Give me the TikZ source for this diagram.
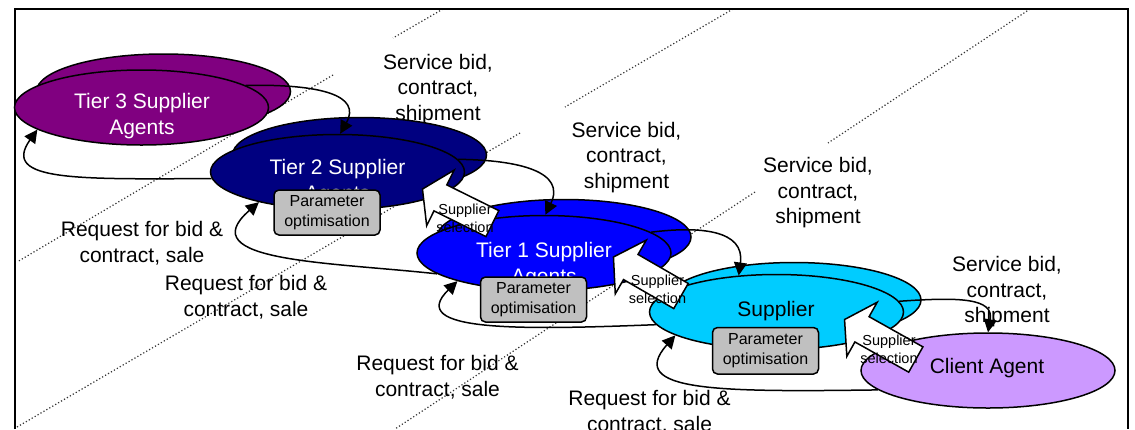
\documentclass[tikz,border=0pt]{standalone}
\usepackage{fontspec}
\setmainfont{Liberation Sans}
\usetikzlibrary{shapes.geometric,arrows.meta}
\definecolor{tierThree}{RGB}{128, 0, 128}
\definecolor{tierTwo}{RGB}{0, 0, 128}
\definecolor{tierOne}{RGB}{0, 0, 255}
\definecolor{supplierCyan}{RGB}{0, 204, 255}
\definecolor{clientLilac}{RGB}{204, 153, 255}
\definecolor{paramGray}{RGB}{192, 192, 192}

\begin{document}
\begin{tikzpicture}[x=1pt,y=-1pt,
    agent/.style={ellipse,draw=black,line width=1.5pt,minimum width=254pt,minimum height=75pt,inner sep=0pt},
    agtext/.style={font=\fontsize{21}{26}\selectfont,align=center,inner sep=0pt},
    lbl/.style={font=\fontsize{21}{25.5}\selectfont,align=center,inner sep=0pt},
    parbox/.style={draw=black,line width=1.5pt,rounded corners=5pt,fill=paramGray,minimum width=106pt,minimum height=45pt,inner sep=0pt,font=\fontsize{16}{19.5}\selectfont,align=center},
    flow/.style={line width=1.5pt,-{Triangle[length=13pt,width=13pt]}},
    selarrow/.style={draw=black,line width=1.5pt,fill=white},
    seltext/.style={font=\fontsize{14.5}{18.5}\selectfont,align=center,inner sep=0pt},
    lane/.style={black!80,line width=1.2pt,dash pattern=on 1.2pt off 2.2pt}]
    \useasboundingbox (0,0) rectangle (1135,429);

    % swim lanes
    \draw[lane] (443,9) -- (393,38);
    \draw[lane] (333,75) -- (17,262);
    \draw[lane] (733,9) -- (565,107);
    \draw[lane] (520,133) -- (17,427);
    \draw[lane] (1030,9) -- (828,143);
    \draw[lane] (755,192) -- (395,429);
    \draw[line width=1.5pt] (15,429) -- (15,9) -- (1128,9) -- (1128,429);

    % message labels
    \node[lbl] (bid1) at (438,89.5) {Service bid,\\contract,\\shipment};
    \node[lbl] (bid2) at (626.5,157.5) {Service bid,\\contract,\\shipment};
    \node[lbl] (bid3) at (818,193) {Service bid,\\contract,\\shipment};
    \node[lbl] (bid4) at (1007,292) {Service bid,\\contract,\\shipment};
    \node[lbl] (req1) at (142,243) {Request for bid \&\\contract, sale};
    \node[lbl] (req2) at (246,297) {Request for bid \&\\contract, sale};
    \node[lbl] (req3) at (437.5,377) {Request for bid \&\\contract, sale};
    \node[lbl] (req4) at (649.5,412) {Request for bid \&\\contract, sale};

    % agents
    \node[agent,fill=tierThree] (t3b) at (163.5,91.5) {};
    \node[agent,fill=tierThree] (t3) at (141.5,107.5) {};
    \node[agtext,white] (t3txt) at (142,116) {Tier 3 Supplier\\Agents};

    \node[agent,fill=tierTwo] (t2b) at (359.5,155) {};
    \node[agent,fill=tierTwo] (t2) at (337.5,172) {};
    \node[agtext,white] (t2txt) at (337.5,182.5) {Tier 2 Supplier\\Agents};

    \node[agent,fill=tierOne] (t1b) at (564,237) {};
    \node[agent,fill=tierOne] (t1) at (544,253) {};
    \node[agtext,white] (t1txt) at (544,265) {Tier 1 Supplier\\Agents};

    \node[agent,fill=supplierCyan] (supb) at (794,300) {};
    \node[agent,fill=supplierCyan] (sup) at (776.5,312) {};
    \node[agtext] (suptxt) at (776,324) {Supplier\\Agents};

    \node[agent,fill=clientLilac] (cl) at (988,370.5) {};
    \node[agtext] (cltxt) at (987,368) {Client Agent};

    % bids and shipments downstream
    \draw[flow] (t3.12) .. controls (320,84) and (362,95) .. (t2.86);
    \draw[flow] (t2.6) .. controls (520,160) and (566,172) .. (t1.88);
    \draw[flow] (t1.11) .. controls (700,226) and (745,230) .. (sup.136);
    \draw[flow] (sup.5) .. controls (960,297) and (994,298) .. (cl.north);
    % requests upstream
    \draw[flow] (t2.183) .. controls (80,179) and (0,182) .. (t3.192);
    \draw[flow] (t1.191) .. controls (330,262) and (190,262) .. (t2.201);
    \draw[flow] (sup.186) .. controls (520,330) and (405,332) .. (t1.198);
    \draw[flow] (cl.190) .. controls (720,392) and (625,392) .. (sup.193);

    % optimisation
    \node[parbox] (par2) at (327,212.5) {Parameter\\optimisation};
    \node[parbox] (par1) at (533.5,299.5) {Parameter\\optimisation};
    \node[parbox,minimum height=46.5pt] (parS) at (765.5,350.75) {Parameter\\optimisation};

    % supplier selection
    \draw[selarrow,shift={(492.4,223.6)},rotate=153.7] (0,-14.5) -- (58,-14.5) -- (58,-31) -- (78,0) -- (58,31) -- (58,14.5) -- (0,14.5) -- cycle;
    \draw[selarrow,shift={(681,296)},rotate=150] (0,-14.5) -- (58,-14.5) -- (58,-31) -- (78,0) -- (58,31) -- (58,14.5) -- (0,14.5) -- cycle;
    \draw[selarrow,shift={(915.8,359.5)},rotate=150.7] (0,-14.5) -- (61.7,-14.5) -- (61.7,-31) -- (81.7,0) -- (61.7,31) -- (61.7,14.5) -- (0,14.5) -- cycle;
    \node[seltext] (sel1) at (465,218.5) {Supplier\\selection};
    \node[seltext] (sel2) at (657.5,289.5) {Supplier\\selection};
    \node[seltext] (sel3) at (889,349.5) {Supplier\\selection};
\end{tikzpicture}
\end{document}
